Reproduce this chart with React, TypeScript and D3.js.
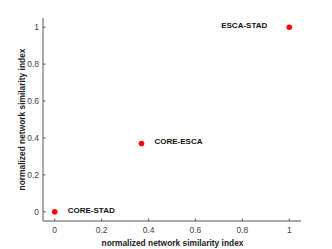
import React from "react";
import * as d3 from "d3";

const pairLabels = ["CORE-STAD", "CORE-ESCA", "ESCA-STAD"];
const xValues = [0, 0.37, 1];
const yValues = [0, 0.37, 1];
const tickValues = [0, 0.2, 0.4, 0.6, 0.8, 1];
const axisTitle = "normalized network similarity index";

export default function App() {
  const W = 332, H = 249;
  const left = 43, right = 301, top = 18, bottom = 221;
  const x = d3.scaleLinear().domain([-0.05, 1.05]).range([left, right]);
  const y = d3.scaleLinear().domain([-0.05, 1.05]).range([bottom, top]);
  const font = "Liberation Sans, Arial, Helvetica, sans-serif";
  const axisColor = "#555";
  const fmt = (v: number) => String(v);
  return (
    <svg width={W} height={H} style={{ position: "absolute", left: 0, top: 0, background: "#fff" }} fontFamily={font}>
      <line x1={left} x2={right} y1={bottom} y2={bottom} stroke={axisColor} strokeWidth={1} />
      <line x1={left} x2={left} y1={top} y2={bottom} stroke={axisColor} strokeWidth={1} />
      {tickValues.map((t) => (
        <g key={"x" + t}>
          <line x1={x(t)} x2={x(t)} y1={bottom} y2={bottom - 2.5} stroke={axisColor} />
          <text x={x(t)} y={bottom + 12} textAnchor="middle" fontSize={8.5} fill="#444">{fmt(t)}</text>
        </g>
      ))}
      {tickValues.map((t) => (
        <g key={"y" + t}>
          <line x1={left} x2={left + 2.5} y1={y(t)} y2={y(t)} stroke={axisColor} />
          <text x={left - 4} y={y(t)} dy="0.35em" textAnchor="end" fontSize={8.5} fill="#444">{fmt(t)}</text>
        </g>
      ))}
      <text x={172.5} y={246} textAnchor="middle" fontSize={8.4} fontWeight="bold" fill="#222">{axisTitle}</text>
      <text transform={`translate(25,${(top + bottom) / 2}) rotate(-90)`} textAnchor="middle" fontSize={8.4} fontWeight="bold" fill="#222">{axisTitle}</text>
      {xValues.map((v, i) => (
        <circle key={"p" + i} cx={x(v)} cy={y(yValues[i])} r={2.8} fill="#ff0000" />
      ))}
      {xValues.map((v, i) => {
        const isLast = i === xValues.length - 1;
        return (
          <text key={"l" + i}
            x={isLast ? x(v) - 22 : x(v) + 13}
            y={y(yValues[i]) - 2}
            dy="0.35em"
            textAnchor={isLast ? "end" : "start"}
            fontSize={8}
            fontWeight="bold"
            fill="#111">{pairLabels[i]}</text>
        );
      })}
    </svg>
  );
}
